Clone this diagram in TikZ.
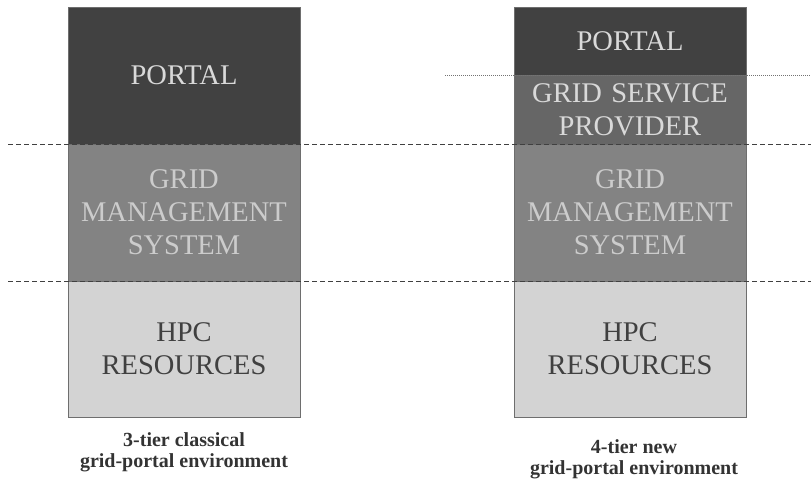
\documentclass[tikz,border=0pt]{standalone}
\usepackage{fontspec}
\setmainfont{Liberation Serif}
\usepackage{tikz}
\usepackage{xcolor}

\definecolor{portalgray}{HTML}{414141}
\definecolor{gspgray}{HTML}{666666}
\definecolor{gmsgray}{HTML}{838383}
\definecolor{hpcgray}{HTML}{D3D3D3}
\definecolor{edgegray}{HTML}{6E6E6E}

\begin{document}
\begin{tikzpicture}[x=1pt, y=-1pt]
	\tikzstyle{tier} = [draw=edgegray, line width=0.8pt, minimum width=232pt, text width=226pt,
		align=center, inner sep=0pt, font=\fontsize{28.5}{33}\selectfont]
	\tikzstyle{sepline} = [draw=black!75, line width=0.8pt, dash pattern=on 5pt off 3pt]
	\tikzstyle{caption} = [align=center, inner sep=0pt, font=\fontsize{20}{21}\selectfont\bfseries, text=black!80]
	\useasboundingbox (0,0) rectangle (811,481);
	% 3-tier column
		\node[tier, fill=portalgray, text=black!15, minimum height=137pt] (portalA) at (184,75.5) {PORTAL};
		\node[tier, fill=gmsgray, text=black!20, minimum height=137pt] (gmsA) at (184,212.5) {GRID\\MANAGEMENT\\SYSTEM};
		\node[tier, fill=hpcgray, text=black!75, minimum height=136pt] (hpcA) at (184,349) {HPC\\RESOURCES};
	% 4-tier column
		\node[tier, fill=portalgray, text=black!15, minimum height=68pt] (portalB) at (630,41) {PORTAL};
		\node[tier, fill=gspgray, text=black!15, minimum height=69pt] (gspB) at (630,109.5) {GRID SERVICE\\PROVIDER};
		\node[tier, fill=gmsgray, text=black!20, minimum height=137pt] (gmsB) at (630,212.5) {GRID\\MANAGEMENT\\SYSTEM};
		\node[tier, fill=hpcgray, text=black!75, minimum height=136pt] (hpcB) at (630,349) {HPC\\RESOURCES};
	% separators
		\coordinate (upper-w) at (8,144);
		\coordinate (upper-e) at (811,144);
		\coordinate (lower-w) at (8,281);
		\coordinate (lower-e) at (811,281);
		\coordinate (gsp-w) at (445,75);
		\coordinate (gsp-e) at (811,75);
	\draw[sepline] (upper-w) -- (upper-e);
	\draw[sepline] (lower-w) -- (lower-e);
	\draw[draw=black!55, line width=0.7pt, dash pattern=on 1pt off 1pt] (gsp-w) -- (gsp-e);
	% captions
		\node[caption] (capA) at (184,452) {3-tier classical\\grid-portal environment};
		\node[caption] (capB) at (634,459) {4-tier new\\grid-portal environment};
	\end{tikzpicture}
\end{document}
